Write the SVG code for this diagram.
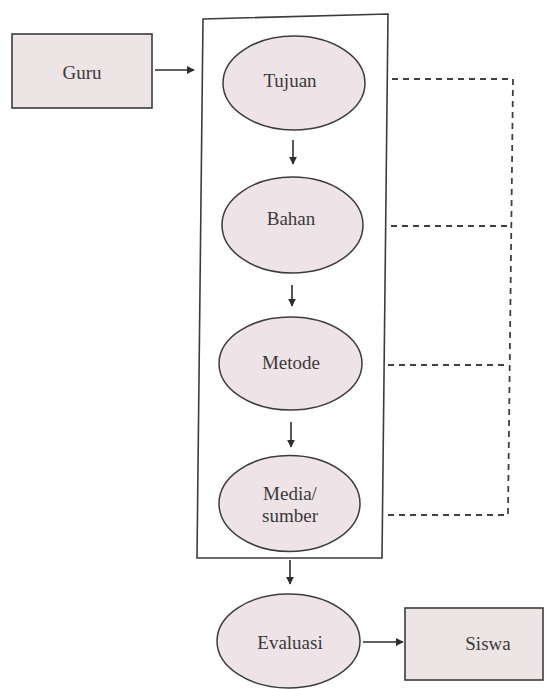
<svg xmlns="http://www.w3.org/2000/svg" width="546" height="689" viewBox="0 0 546 689">
  <style>
    .box { fill: #ece4e5; stroke: #3c3c3c; stroke-width: 1.6; }
    .oval { fill: #eee3e6; stroke: #3c3c3c; stroke-width: 1.5; }
    .frame { fill: none; stroke: #3c3c3c; stroke-width: 1.6; }
    .lbl { font-family: "Liberation Serif", "Times New Roman", serif; font-size: 19px; fill: #3a3a3a; text-anchor: middle; dominant-baseline: central; }
    .arrow { fill: none; stroke: #2e2e2e; stroke-width: 1.6; marker-end: url(#head); }
    .dash { fill: none; stroke: #404040; stroke-width: 1.8; stroke-dasharray: 6 5; }
  </style>
  <defs>
    <marker id="head" viewBox="0 0 10 10" refX="9" refY="5" markerWidth="5" markerHeight="5" orient="auto" markerUnits="strokeWidth">
      <path d="M0,0 L10,5 L0,10 z" fill="#2e2e2e"/>
    </marker>
  </defs>

  <rect width="546" height="689" fill="#ffffff"/>

  <!-- enclosing frame around the planning steps -->
  <g id="frame">
    <polygon class="frame" points="203,19 388,14 382,558 197,558"/>
  </g>

  <g id="guru">
    <rect class="box" x="12" y="34" width="140" height="74"/>
    <text class="lbl" x="82" y="72">Guru</text>
  </g>

  <g id="tujuan">
    <ellipse class="oval" cx="294" cy="83" rx="71" ry="47"/>
    <text class="lbl" x="290" y="80">Tujuan</text>
  </g>

  <g id="bahan">
    <ellipse class="oval" cx="292.5" cy="225" rx="70.5" ry="48"/>
    <text class="lbl" x="291" y="218">Bahan</text>
  </g>

  <g id="metode">
    <ellipse class="oval" cx="290.5" cy="363.5" rx="71.5" ry="46.5"/>
    <text class="lbl" x="291" y="362">Metode</text>
  </g>

  <g id="media">
    <ellipse class="oval" cx="289.5" cy="503.5" rx="70.5" ry="48"/>
    <text class="lbl" x="290" y="493">Media/</text>
    <text class="lbl" x="290" y="515">sumber</text>
  </g>

  <g id="evaluasi">
    <ellipse class="oval" cx="288.5" cy="641" rx="71.5" ry="47"/>
    <text class="lbl" x="290" y="642">Evaluasi</text>
  </g>

  <g id="siswa">
    <rect class="box" x="405" y="608" width="138" height="72"/>
    <text class="lbl" x="488" y="643">Siswa</text>
  </g>

  <g id="connectors">
    <line class="arrow" x1="155" y1="70" x2="194" y2="70"/>
    <line class="arrow" x1="293" y1="140" x2="293" y2="164"/>
    <line class="arrow" x1="292" y1="285" x2="292" y2="306"/>
    <line class="arrow" x1="291" y1="422" x2="291" y2="447"/>
    <line class="arrow" x1="290" y1="560" x2="290" y2="584"/>
    <line class="arrow" x1="363" y1="642" x2="403" y2="642"/>

    <!-- dashed feedback links on the right -->
    <polyline class="dash" points="392,79 513,79 508,515 388,515"/>
    <line class="dash" x1="391" y1="226" x2="512" y2="226"/>
    <line class="dash" x1="388" y1="365" x2="509" y2="365"/>
  </g>
</svg>
